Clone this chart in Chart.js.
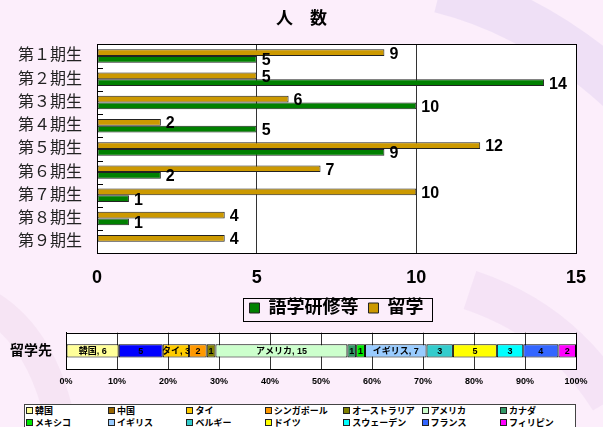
<!DOCTYPE html>
<html lang="ja">
<head>
<meta charset="utf-8">
<title>人数・留学先</title>
<script src="https://cdn.jsdelivr.net/npm/chart.js@4.4.1/dist/chart.umd.min.js"></script>
<style>
  body {
    margin: 0;
    width: 603px;
    height: 427px;
    overflow: hidden;
    position: relative;
    background: #fceefb;
    font-family: "Liberation Sans", "Noto Sans CJK JP", sans-serif;
  }
  #deco { position: absolute; left: 0; top: 0; }
  #countWrap { position: absolute; left: 0; top: 0; width: 603px; height: 341px; }
  #destWrap { position: absolute; left: 0; top: 320px; width: 603px; height: 80px; }
  #destLegend {
    position: absolute;
    left: 24px;
    top: 404px;
    width: 552px;
    height: 40px;
    border: 1px solid #444;
    background: #fff;
    box-sizing: border-box;
    padding-left: 1px;
    display: grid;
    grid-template-columns: 82px repeat(6, 78.4px);
    grid-auto-rows: 11.5px;
    font: bold 9px "Noto Sans CJK JP", sans-serif;
    color: #000;
  }
  #destLegend div { display: flex; align-items: center; white-space: nowrap; }
  #destLegend span.sw {
    display: inline-block;
    width: 5px;
    height: 5px;
    border: 1px solid #222;
    margin-right: 2px;
  }
</style>
</head>
<body>
<svg id="deco" width="603" height="427">
  <g fill="none" stroke="#e4d6f2" stroke-opacity="0.55">
    <path d="M440,-10 Q540,15 625,95" stroke-width="46"/>
    <path d="M-20,300 Q40,330 60,420" stroke-width="30" stroke="#f0dcef"/>
    <path d="M470,290 Q560,320 610,400" stroke-width="40" stroke="#eedbf2"/>
  </g>
</svg>
<div id="countWrap"><canvas id="countChart"></canvas></div>
<div id="destWrap"><canvas id="destChart"></canvas></div>
<div id="destLegend"></div>

<script>
// 人数 (期ごと)
const terms = ["第１期生", "第２期生", "第３期生", "第４期生", "第５期生", "第６期生", "第７期生", "第８期生", "第９期生"];
const studyAbroad = [9, 5, 6, 2, 12, 7, 10, 4, 4];
const languageTraining = [5, 14, 10, 5, 9, 2, 1, 1, null];
const countMax = 15;
const countStep = 5;

// 留学先
const destinations = ["韓国", "中国", "タイ", "シンガポール", "オーストラリア", "アメリカ", "カナダ",
  "メキシコ", "イギリス", "ベルギー", "ドイツ", "スウェーデン", "フランス", "フィリピン"];
const destinationCounts = [6, 5, 3, 2, 1, 15, 1, 1, 7, 3, 5, 3, 4, 2];
const namedSegments = ["韓国", "タイ", "アメリカ", "イギリス"];
const barColors = ["#ffff99", "#0000ff", "#ffcc00", "#ff9900", "#808000", "#ccffcc", "#339966",
  "#00e600", "#99ccff", "#33cccc", "#ffff00", "#00ffff", "#3366ff", "#ff00ff"];
const legendColors = ["#ffff99", "#996600", "#ffcc00", "#ff9900", "#808000", "#ccffcc", "#339966",
  "#00e600", "#99ccff", "#33cccc", "#ffff00", "#00ffff", "#3366ff", "#ff00ff"];

const FONT = "'Liberation Sans', 'Noto Sans CJK JP', sans-serif";

// white plot background + black frame
const plotFrame = {
  id: "plotFrame",
  beforeDraw(chart) {
    const { ctx, chartArea: a } = chart;
    ctx.save();
    ctx.fillStyle = "#fff";
    ctx.fillRect(a.left, a.top, a.right - a.left, a.bottom - a.top);
    ctx.restore();
  },
  afterDraw(chart) {
    const { ctx, chartArea: a } = chart;
    ctx.save();
    ctx.strokeStyle = "#000";
    ctx.lineWidth = 1;
    ctx.strokeRect(Math.round(a.left) + 0.5, Math.round(a.top) + 0.5,
      Math.round(a.right - a.left), Math.round(a.bottom - a.top));
    ctx.restore();
  }
};

// small marks between categories, inside the plot
const innerTicks = {
  id: "innerTicks",
  afterDraw(chart) {
    const { ctx, chartArea: a } = chart;
    const y = chart.scales.y;
    ctx.save();
    ctx.strokeStyle = "#000";
    ctx.lineWidth = 1;
    for (let i = 0; i < terms.length - 1; i++) {
      const py = Math.round((y.getPixelForValue(i) + y.getPixelForValue(i + 1)) / 2) + 0.5;
      ctx.beginPath();
      ctx.moveTo(a.left, py);
      ctx.lineTo(a.left + 6, py);
      ctx.stroke();
    }
    ctx.restore();
  }
};

// numbers at the bar ends
const valueLabels = {
  id: "valueLabels",
  afterDatasetsDraw(chart) {
    const { ctx } = chart;
    ctx.save();
    ctx.font = "bold 16px " + FONT;
    ctx.fillStyle = "#000";
    ctx.textAlign = "left";
    ctx.textBaseline = "middle";
    chart.data.datasets.forEach((ds, i) => {
      chart.getDatasetMeta(i).data.forEach((bar, j) => {
        const v = ds.data[j];
        if (v == null) return;
        ctx.fillText(String(v), bar.x + 5, bar.y + 1.5);
      });
    });
    ctx.restore();
  }
};

// legend sits closer to the axis than the default layout puts it
const legendShift = {
  id: "legendShift",
  afterLayout(chart, args, opts) {
    const lg = chart.legend;
    if (!lg) return;
    lg.top -= opts.dy;
    lg.bottom -= opts.dy;
  }
};

// border around the legend items
const legendBox = {
  id: "legendBox",
  afterDraw(chart) {
    const boxes = chart.legend && chart.legend.legendHitBoxes;
    if (!boxes || !boxes.length) return;
    const left = Math.min(...boxes.map(b => b.left)) - 7;
    const right = Math.max(...boxes.map(b => b.left + b.width)) + 8;
    const cy = boxes[0].top + boxes[0].height / 2 + 1.5;
    const { ctx } = chart;
    ctx.save();
    ctx.strokeStyle = "#000";
    ctx.lineWidth = 1;
    ctx.strokeRect(Math.round(left) + 0.5, Math.round(cy - 11.5) + 0.5, Math.round(right - left), 23);
    ctx.restore();
  }
};

new Chart(document.getElementById("countChart"), {
  type: "bar",
  data: {
    labels: terms,
    datasets: [
      {
        label: "留学",
        data: studyAbroad,
        backgroundColor: "#cc9900",
        borderColor: "#222",
        borderWidth: 1,
        borderSkipped: false,
        categoryPercentage: 0.58,
        barPercentage: 1
      },
      {
        label: "語学研修等",
        data: languageTraining,
        backgroundColor: "#008000",
        borderColor: "#222",
        borderWidth: 1,
        borderSkipped: false,
        categoryPercentage: 0.58,
        barPercentage: 1
      }
    ]
  },
  options: {
    indexAxis: "y",
    responsive: true,
    maintainAspectRatio: false,
    animation: false,
    layout: { padding: 0 },
    scales: {
      x: {
        min: 0,
        max: countMax,
        ticks: {
          stepSize: countStep,
          color: "#000",
          padding: 14,
          font: { family: FONT, size: 18, weight: "bold" }
        },
        grid: { color: "#333", lineWidth: 1, drawTicks: false },
        border: { color: "#000" }
      },
      y: {
        ticks: {
          color: "#222",
          padding: 15,
          font: { family: FONT, size: 16 }
        },
        grid: { display: false, drawTicks: false },
        border: { color: "#000" },
        afterFit(scale) { scale.width = 97; }
      },
      // empty strip on the right so the title stays centred on the page
      yRight: {
        type: "linear",
        position: "right",
        ticks: { display: false },
        grid: { display: false, drawTicks: false },
        border: { display: false },
        afterFit(scale) { scale.width = 27; }
      }
    },
    plugins: {
      title: {
        display: true,
        text: "人　数",
        color: "#000",
        font: { family: FONT, size: 17, weight: "bold" },
        padding: { top: 9, bottom: 15 }
      },
      legend: {
        position: "bottom",
        fullSize: false,
        reverse: true,
        labels: {
          color: "#000",
          boxWidth: 10,
          boxHeight: 10,
          padding: 10,
          font: { family: FONT, size: 18, weight: "bold" }
        }
      },
      legendShift: { dy: 14 },
      tooltip: { enabled: false }
    }
  },
  plugins: [plotFrame, innerTicks, valueLabels, legendShift, legendBox]
});

// 100% stacked bar of destinations
const total = destinationCounts.reduce((s, v) => s + v, 0);

const segmentLabels = {
  id: "segmentLabels",
  afterDatasetsDraw(chart) {
    const { ctx } = chart;
    ctx.save();
    ctx.font = "bold 9px " + FONT;
    ctx.fillStyle = "#000";
    ctx.textAlign = "center";
    ctx.textBaseline = "middle";
    destinations.forEach((name, i) => {
      const bar = chart.getDatasetMeta(i).data[0];
      const n = destinationCounts[i];
      const text = namedSegments.includes(name) ? name + ", " + n : String(n);
      ctx.fillText(text, (bar.x + bar.base) / 2, bar.y + 0.5);
    });
    ctx.restore();
  }
};

new Chart(document.getElementById("destChart"), {
  type: "bar",
  data: {
    labels: ["留学先"],
    datasets: destinations.map((name, i) => ({
      label: name,
      data: [destinationCounts[i] / total * 100],
      backgroundColor: barColors[i],
      borderColor: "#000",
      borderWidth: 1,
      borderSkipped: false,
      categoryPercentage: 1,
      barPercentage: 0.37
    }))
  },
  options: {
    indexAxis: "y",
    responsive: true,
    maintainAspectRatio: false,
    animation: false,
    layout: { padding: { left: 0, right: 27, top: 12.7, bottom: 6.2 } },
    scales: {
      x: {
        stacked: true,
        min: 0,
        max: 100,
        ticks: {
          stepSize: 10,
          color: "#000",
          padding: 7,
          font: { family: FONT, size: 9, weight: "bold" },
          callback: v => v + "%"
        },
        grid: { color: "#333", lineWidth: 1, drawTicks: false },
        border: { color: "#000" }
      },
      y: {
        stacked: true,
        ticks: {
          color: "#000",
          padding: 14,
          font: { family: FONT, size: 14, weight: "bold" }
        },
        grid: { display: false, drawTicks: false },
        border: { color: "#000" },
        afterFit(scale) {
          scale.width = 66;
          // the label padding would otherwise push the plot down
          scale.paddingTop = 0;
          scale.paddingBottom = 0;
        }
      }
    },
    plugins: {
      legend: { display: false },
      tooltip: { enabled: false }
    }
  },
  plugins: [plotFrame, segmentLabels]
});

// legend for the destinations
const legendEl = document.getElementById("destLegend");
destinations.forEach((name, i) => {
  const item = document.createElement("div");
  const sw = document.createElement("span");
  sw.className = "sw";
  sw.style.background = legendColors[i];
  item.appendChild(sw);
  item.appendChild(document.createTextNode(name));
  legendEl.appendChild(item);
});
</script>
</body>
</html>
